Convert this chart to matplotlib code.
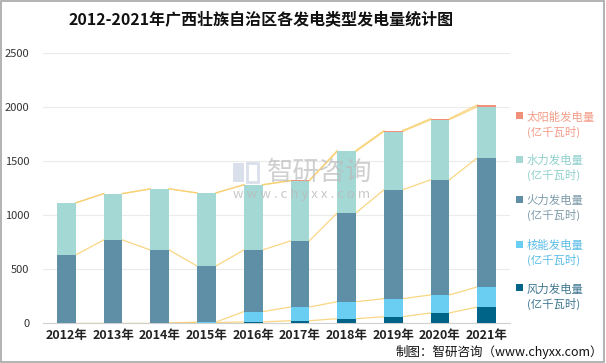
import numpy as np
import matplotlib
matplotlib.use("Agg")
import matplotlib.pyplot as plt
from matplotlib.patches import Rectangle

plt.rcParams['font.family'] = ['Noto Sans CJK SC', 'DejaVu Sans']

years = ['2012年', '2013年', '2014年', '2015年', '2016年', '2017年', '2018年', '2019年', '2020年', '2021年']
wind = [0, 0, 0, 3, 10, 21, 40, 58, 93, 148]
nuclear = [0, 0, 0, 5, 95, 127, 157, 167, 167, 186]
fire = [630, 769, 676, 519, 571, 612, 822, 1008, 1066, 1195]
hydro = [482, 429, 566, 677, 603, 556, 569, 540, 556, 473]
solar = [0, 0, 0, 0, 2, 4, 9, 9, 10, 18]

series_names = ['风力发电量\n(亿千瓦时)', '核能发电量\n(亿千瓦时)', '火力发电量\n(亿千瓦时)',
                '水力发电量\n(亿千瓦时)', '太阳能发电量\n(亿千瓦时)']
colors = ['#006489', '#6ACDF2', '#5E8FA6', '#A3D8D5', '#F0907A']
text_colors = ['#3F7690', '#5BBCE6', '#7D9BAA', '#8FD0CC', '#F29D88']

fig = plt.figure(figsize=(6.06, 3.63), dpi=100)
ax = fig.add_axes([0.071, 0.1102, 0.7706, 0.7438])

x = np.arange(len(years))
width = 0.4
bottom = np.zeros(len(years))
for vals, name, col in zip([wind, nuclear, fire, hydro, solar], series_names, colors):
    vals = np.array(vals, dtype=float)
    ax.bar(x, vals, width, bottom=bottom, color=col, label=name, zorder=3)
    top = bottom + vals
    # series lines between bars
    for i in range(len(years) - 1):
        ax.plot([x[i] + width / 2, x[i + 1] - width / 2], [top[i], top[i + 1]],
                color='#F8CF6E', lw=0.9, alpha=0.85, zorder=2)
    bottom = top

ax.set_xlim(-0.5, len(years) - 0.5)
ax.set_ylim(0, 2500)
ax.set_yticks([0, 500, 1000, 1500, 2000, 2500])
ax.set_xticks(x)
ax.set_xticklabels(years, fontsize=9, color='#222222', fontweight='bold')
ax.tick_params(axis='y', labelsize=8, colors='#333333', length=0, pad=10)
ax.tick_params(axis='x', length=0, pad=4)
ax.grid(axis='y', color='#EBEBEB', lw=0.8, zorder=0)
for s in ['top', 'right', 'left']:
    ax.spines[s].set_visible(False)
ax.spines['bottom'].set_color('#D0D0D0')

# legend
leg_items = list(zip(series_names, text_colors, colors))[::-1]
leg_y = [0.657, 0.537, 0.426, 0.303, 0.183]
for (name, tcol, col), yy in zip(leg_items, leg_y):
    fig.patches.append(Rectangle((0.852, yy + 0.015), 0.011, 0.019, transform=fig.transFigure,
                                 facecolor=col, edgecolor='none'))
    fig.text(0.869, yy, name, fontsize=8.2, color=tcol, va='center', ha='left',
             linespacing=1.3)

fig.suptitle('2012-2021年广西壮族自治区各发电类型发电量统计图', x=0.43, y=0.968,
             fontsize=11.5, fontweight='bold', color='#111111')

# watermark
fig.patches.append(Rectangle((0.385, 0.5), 0.018, 0.05, transform=fig.transFigure,
                             facecolor='#C9D3E3', edgecolor='none', alpha=0.7))
fig.patches.append(Rectangle((0.407, 0.5), 0.018, 0.05, transform=fig.transFigure,
                             facecolor='none', edgecolor='#C9D3E3', lw=2, alpha=0.7))
fig.text(0.527, 0.525, '智研咨询', fontsize=19, color='#BBBBBB', alpha=0.7, ha='center', va='center')
fig.text(0.498, 0.465, 'w w w . c h y x x . c o m', fontsize=9.5, color='#BBBBBB', alpha=0.8,
         ha='center', va='center')

fig.text(0.995, 0.012, '制图：智研咨询（www.chyxx.com）', fontsize=9, color='#111111',
         ha='right', va='bottom')

fig.patches.append(Rectangle((0.001, 0.002), 0.995, 0.996, transform=fig.transFigure,
                             facecolor='none', edgecolor='#A6A6A6', lw=1.2))

fig.savefig('out.png', dpi=100)
